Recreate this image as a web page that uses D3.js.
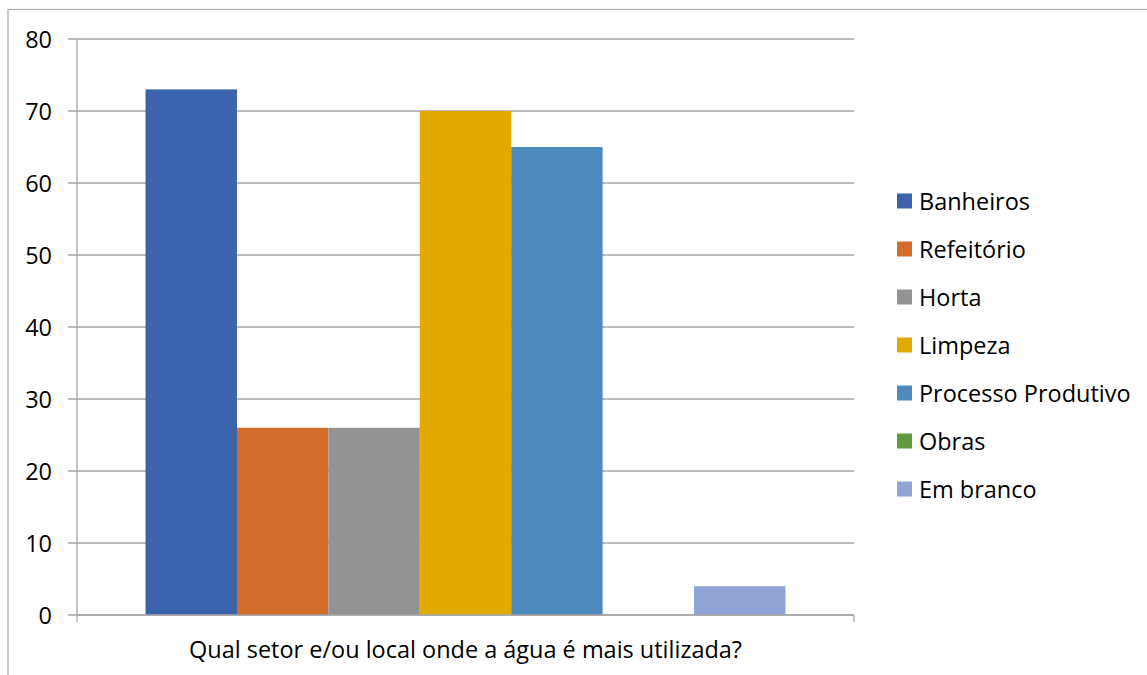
<!DOCTYPE html>
<html>
<head>
<meta charset="utf-8">
<script src="https://cdn.jsdelivr.net/npm/d3@7"></script>
<style>
  html, body { margin: 0; padding: 0; background: #fff; }
  svg { display: block; }
  text { font-family: "Open Sans", "Noto Sans", sans-serif; fill: #000; }
</style>
</head>
<body>
<svg id="chart" width="1147" height="675"></svg>
<script>
const category = "Qual setor e/ou local onde a água é mais utilizada?";
const series = ["Banheiros", "Refeitório", "Horta", "Limpeza", "Processo Produtivo", "Obras", "Em branco"];
const values = [73, 26, 26, 70, 65, 0, 4];
const colors = ["#3C64AC", "#D36D2B", "#939393", "#E2AA00", "#4E8ABE", "#5F9A3E", "#8FA4D5"];
const yTicks = [0, 10, 20, 30, 40, 50, 60, 70, 80];

const svg = d3.select("#chart");
const W = 1147, H = 675;

// outer chart border
svg.append("rect")
  .attr("x", 8).attr("y", 9.5)
  .attr("width", W + 20).attr("height", H + 20)
  .attr("fill", "#fff").attr("stroke", "#b3b3b3").attr("stroke-width", 1.3);

const plot = { left: 77, right: 854, top: 39, bottom: 615 };

const y = d3.scaleLinear().domain([0, 80]).range([plot.bottom, plot.top]);
const x = d3.scaleBand().domain(series)
  .range([plot.left, plot.right]).paddingInner(0).paddingOuter(0.75);

// font size fitted so the category label spans the reference width
const probe = svg.append("text").style("font-size", "20px").text(category);
const fs = 20 * 553 / probe.node().getComputedTextLength();
probe.remove();
const fsPx = fs.toFixed(2) + "px";

// gridlines
svg.append("g").selectAll("line").data(yTicks).join("line")
  .attr("x1", plot.left - 9).attr("x2", plot.right)
  .attr("y1", d => y(d)).attr("y2", d => y(d))
  .attr("stroke", "#a6a6a6").attr("stroke-width", 1.3);

// y axis line
svg.append("line")
  .attr("x1", plot.left).attr("x2", plot.left)
  .attr("y1", plot.top).attr("y2", plot.bottom + 7)
  .attr("stroke", "#a6a6a6").attr("stroke-width", 1.3);

// y tick labels
svg.append("g").selectAll("text").data(yTicks).join("text")
  .attr("x", 52).attr("y", d => y(d))
  .attr("text-anchor", "end").attr("dominant-baseline", "central")
  .style("font-size", fsPx)
  .text(d => d);

// bars
svg.append("g").selectAll("rect").data(series).join("rect")
  .attr("x", d => x(d))
  .attr("width", x.bandwidth())
  .attr("y", (d, i) => y(values[i]))
  .attr("height", (d, i) => y(0) - y(values[i]))
  .attr("fill", (d, i) => colors[i]);

// x axis line and end ticks
svg.append("line")
  .attr("x1", plot.left).attr("x2", plot.right)
  .attr("y1", plot.bottom).attr("y2", plot.bottom)
  .attr("stroke", "#a6a6a6").attr("stroke-width", 1.3);
svg.append("line")
  .attr("x1", plot.right).attr("x2", plot.right)
  .attr("y1", plot.bottom).attr("y2", plot.bottom + 7)
  .attr("stroke", "#a6a6a6").attr("stroke-width", 1.3);

// category label
svg.append("text")
  .attr("x", (plot.left + plot.right) / 2).attr("y", 649)
  .attr("text-anchor", "middle").attr("dominant-baseline", "central")
  .style("font-size", fsPx)
  .text(category);

// legend
const lg = svg.append("g").selectAll("g").data(series).join("g")
  .attr("transform", (d, i) => `translate(897, ${201 + 48 * i})`);
lg.append("rect").attr("x", 0).attr("y", -7.5).attr("width", 15).attr("height", 15)
  .attr("fill", (d, i) => colors[i]);
lg.append("text").attr("x", 22).attr("y", 0)
  .attr("dominant-baseline", "central")
  .style("font-size", fsPx)
  .text(d => d);
</script>
</body>
</html>
